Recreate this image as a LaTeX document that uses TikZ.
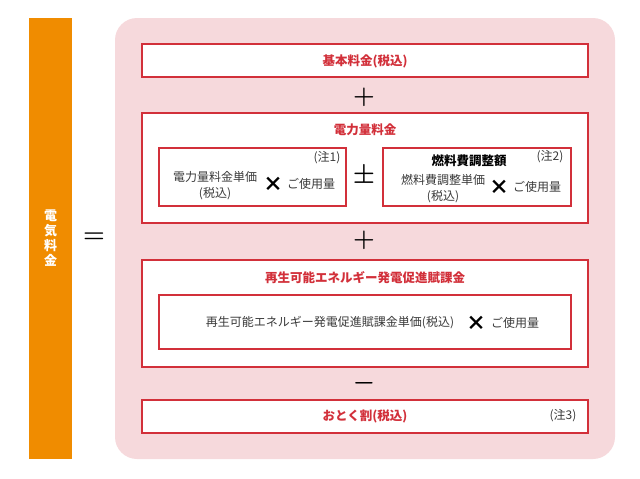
\documentclass[tikz,border=0pt]{standalone}
\usepackage{fontspec}
\setmainfont{Noto Sans CJK JP}
\usetikzlibrary{positioning}
\definecolor{kred}{HTML}{D2303A}
\definecolor{kpink}{HTML}{F6D9DC}
\definecolor{korange}{HTML}{F08C00}
\definecolor{kgray}{HTML}{3A3A3A}
\tikzset{b/.style={draw=kred,fill=white,line width=1.5pt,minimum width=446pt,inner sep=0pt},
 s/.style={draw=kred,fill=white,line width=1.5pt,inner sep=0pt},
 ttl/.style={text=kred,font=\fontsize{12.5}{14}\selectfont\bfseries},
 txt/.style={text=kgray,font=\fontsize{12}{16}\selectfont,align=center,inner sep=0pt},
 op/.style={text=black,font=\fontsize{27}{27}\selectfont\boldmath,inner sep=0pt},
 tms/.style={text=black,font=\fontsize{20}{20}\selectfont\bfseries,inner sep=0pt}}
\begin{document}
\begin{tikzpicture}[x=1pt,y=-1pt]
\useasboundingbox (0,0) rectangle (640,479);
\node[fill=korange,minimum width=43pt,minimum height=441pt,inner sep=0pt](bar) at (50.5,238.5){};
\node[text=white,font=\fontsize{13}{15}\selectfont\bfseries,align=center](kind) at (bar){電\\気\\料\\金};
\node[op,font=\fontsize{29}{29}\selectfont\boldmath](eq) at (94,238){$=$};
\node[fill=kpink,rounded corners=22pt,minimum width=500pt,minimum height=441pt](panel) at (365,238.5){};
% basic charge
\node[b,minimum height=33pt](base) at (365,60.5){};
\node[ttl](basettl) at (365,61){基本料金(税込)};
\node[op](p1) at (364,97){$+$};
% energy charge
\node[b,minimum height=110pt](use) at (365,168){};
\node[ttl](usettl) at (365,130){電力量料金};
\node[s,minimum width=187pt,minimum height=58pt](ua) at (252.5,177){};
\node[txt](uatx) at (215,186){電力量料金単価\\(税込)};
\node[tms](uax) at (273,184){×};
\node[txt](uaq) at (311,184){ご使用量};
\node[txt](n1) at (327,158){(注1)};
\node[op](pm) at (364,176){$\pm$};
\node[s,minimum width=188pt,minimum height=58pt](ub) at (477,177){};
\node[txt,font=\fontsize{12.5}{14}\selectfont\bfseries,text=black](ubttl) at (469,161){燃料費調整額};
\node[txt](n2) at (550,157){(注2)};
\node[txt](ubtx) at (443,189){燃料費調整単価\\(税込)};
\node[tms](ubx) at (499,187){×};
\node[txt](ubq) at (537,187){ご使用量};
\node[op](p2) at (364,240){$+$};
% renewable surcharge
\node[b,minimum height=107pt](re) at (365,313.5){};
\node[ttl](rettl) at (365,278){再生可能エネルギー発電促進賦課金};
\node[s,minimum width=412pt,minimum height=54pt](rin) at (365,322){};
\node[txt](retx) at (330,323){再生可能エネルギー発電促進賦課金単価(税込)};
\node[tms](rex) at (476.5,323){×};
\node[txt](req) at (515,323){ご使用量};
\node[op](mi) at (364,383){$-$};
% discount
\node[b,minimum height=33pt](dis) at (365,416.5){};
\node[ttl](disttl) at (365,416){おとく割(税込)};
\node[txt](n3) at (563,416){(注3)};
\end{tikzpicture}
\end{document}
